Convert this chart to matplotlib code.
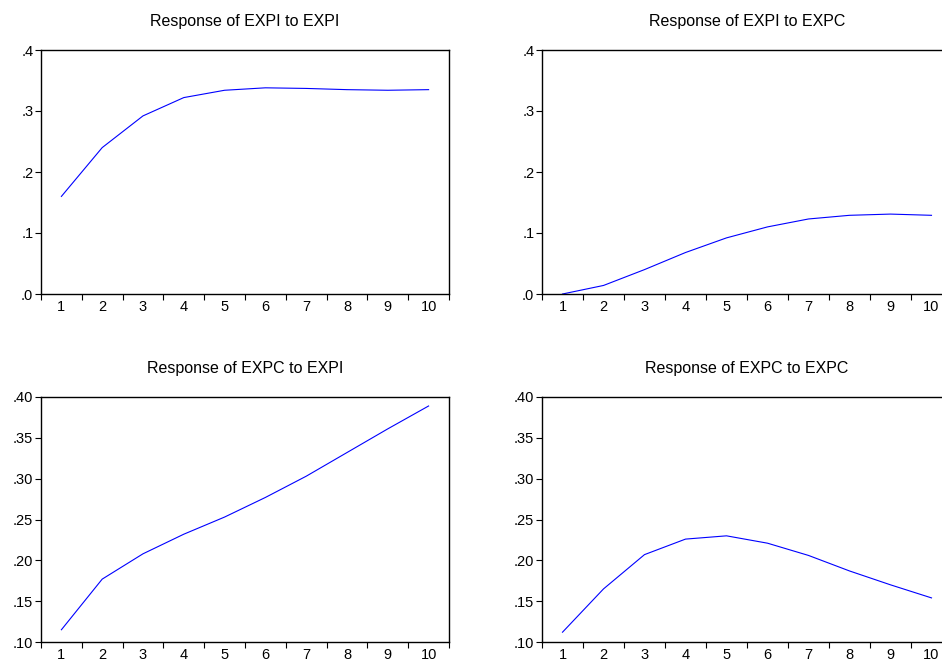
import matplotlib
matplotlib.use("Agg")
import matplotlib.pyplot as plt
from matplotlib.ticker import FuncFormatter, FixedLocator

W, H = 942, 662

periods = list(range(1, 11))

# impulse responses
expi_to_expi = [0.160, 0.240, 0.292, 0.322, 0.334, 0.338, 0.337, 0.335, 0.334, 0.335]
expi_to_expc = [0.000, 0.014, 0.040, 0.068, 0.092, 0.110, 0.123, 0.129, 0.131, 0.129]
expc_to_expi = [0.115, 0.177, 0.208, 0.232, 0.253, 0.277, 0.303, 0.332, 0.361, 0.389]
expc_to_expc = [0.112, 0.165, 0.207, 0.226, 0.230, 0.221, 0.206, 0.187, 0.170, 0.154]

titles = ["Response of EXPI to EXPI", "Response of EXPI to EXPC",
          "Response of EXPC to EXPI", "Response of EXPC to EXPC"]
series = [expi_to_expi, expi_to_expc, expc_to_expi, expc_to_expc]
y_limits = [(0.0, 0.4), (0.0, 0.4), (0.10, 0.40), (0.10, 0.40)]
y_ticks = [[0.0, 0.1, 0.2, 0.3, 0.4], [0.0, 0.1, 0.2, 0.3, 0.4],
           [0.10, 0.15, 0.20, 0.25, 0.30, 0.35, 0.40],
           [0.10, 0.15, 0.20, 0.25, 0.30, 0.35, 0.40]]
y_fmt = ["{:.1f}", "{:.1f}", "{:.2f}", "{:.2f}"]

# axes boxes in pixels: left, top, right, bottom
boxes = [(41, 50, 449, 294), (542, 50, 952, 294),
         (41, 397, 449, 642), (542, 397, 952, 642)]

plt.rcParams['font.family'] = ['Liberation Sans', 'DejaVu Sans']

fig = plt.figure(figsize=(W / 100, H / 100), dpi=100)

for i in range(4):
    l, t, r, b = boxes[i]
    ax = fig.add_axes([l / W, (H - b) / H, (r - l) / W, (b - t) / H])
    ax.plot(periods, series[i], color='#0000ff', lw=0.8)
    ax.set_xlim(0.5, 10.5)
    ax.set_ylim(*y_limits[i])
    ax.set_yticks(y_ticks[i])
    fmt = y_fmt[i]
    ax.yaxis.set_major_formatter(FuncFormatter(lambda v, p, fmt=fmt: fmt.format(v).replace("0.", ".", 1)))
    ax.set_xticks(periods)
    ax.set_xticklabels([str(p) for p in periods])
    ax.xaxis.set_minor_locator(FixedLocator([p - 0.5 for p in periods] + [10.5]))
    ax.tick_params(axis='x', which='major', length=0, pad=4.5, labelsize=10.5)
    ax.tick_params(axis='x', which='minor', length=4, width=0.8, direction='out')
    ax.tick_params(axis='y', length=4, width=0.8, direction='out', pad=1.5, labelsize=10.5)
    for s in ax.spines.values():
        s.set_linewidth(1.0)
    ax.set_title(titles[i], fontsize=11.5, pad=17)

fig.savefig("out.png", dpi=100)
